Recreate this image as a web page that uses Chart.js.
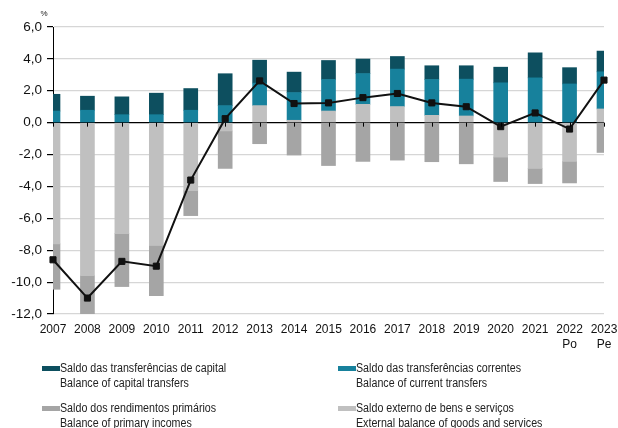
<!DOCTYPE html>
<html lang="pt">
<head>
    <meta charset="UTF-8">
    <title>Saldo externo</title>
    <script src="https://cdn.jsdelivr.net/npm/chart.js"></script>
    <style>
        body { margin: 0; background: #fff; }
        #wrap { position: relative; width: 618px; height: 428px; }
        .leg { position: absolute; font-family: "Liberation Sans", Arial, sans-serif; font-size: 12px; line-height: 14.5px; color: #222; white-space: nowrap; transform: scaleX(0.89); transform-origin: 0 0; }
        .sw { position: absolute; width: 18px; height: 5px; }
    </style>
</head>
<body>
<div id="wrap">
    <canvas id="chart" width="618" height="428"></canvas>
</div>
<script>
    const years = ['2007', '2008', '2009', '2010', '2011', '2012', '2013', '2014', '2015',
        '2016', '2017', '2018', '2019', '2020', '2021', ['2022', 'Po'], ['2023', 'Pe']];

    // % of GDP
    const goodsServices = [-7.6, -9.6, -6.96, -7.7, -4.26, -0.52, 1.07, 0.15, 0.73, 1.15, 1.01, 0.46, 0.42, -2.16, -2.87, -2.43, 0.86];
    const currentTransfers = [0.73, 0.78, 0.5, 0.5, 0.78, 1.07, 1.41, 1.74, 1.98, 1.93, 2.35, 2.25, 2.31, 2.5, 2.81, 2.43, 2.33];
    const capitalTransfers = [1.05, 0.88, 1.12, 1.35, 1.36, 2.0, 1.44, 1.28, 1.19, 0.91, 0.79, 0.86, 0.84, 0.98, 1.57, 1.02, 1.3];
    const primaryIncomes = [-2.85, -3.06, -3.32, -3.15, -1.57, -2.35, -1.32, -2.03, -2.69, -2.43, -2.35, -2.45, -2.58, -1.53, -0.95, -1.35, -1.87];
    const totalBalance = [-8.6, -11.0, -8.7, -9.0, -3.6, 0.25, 2.62, 1.2, 1.24, 1.57, 1.83, 1.24, 1.0, -0.25, 0.61, -0.4, 2.67];

    const legendItems = [
        ['#0d4f5f', 'Saldo das transferências de capital', 'Balance of capital transfers', 42, 361],
        ['#17819c', 'Saldo das transferências correntes', 'Balance of current transfers', 338, 361],
        ['#a5a5a5', 'Saldo dos rendimentos primários', 'Balance of primary incomes', 42, 401],
        ['#c0c0c0', 'Saldo externo de bens e serviços', 'External balance of goods and services', 338, 401]
    ];

    // legend as plain html below the plot
    const wrap = document.getElementById('wrap');
    legendItems.forEach(([col, pt, en, x, y]) => {
        const sw = document.createElement('div');
        sw.className = 'sw';
        sw.style.left = x + 'px';
        sw.style.top = (y + 5) + 'px';
        sw.style.background = col;
        wrap.appendChild(sw);
        const t = document.createElement('div');
        t.className = 'leg';
        t.style.left = (x + 18) + 'px';
        t.style.top = y + 'px';
        t.innerHTML = pt + '<br>' + en;
        wrap.appendChild(t);
    });

    // "%" unit and the little category ticks on the zero line
    const extras = {
        id: 'extras',
        afterDatasetsDraw(chart) {
            const ctx = chart.ctx;
            const x = chart.scales.x, y = chart.scales.y;
            const y0 = y.getPixelForValue(0);
            ctx.save();
            ctx.strokeStyle = '#000';
            ctx.lineWidth = 1;
            for (let i = 0; i < years.length; i++) {
                const px = Math.round(x.getPixelForValue(i)) + 0.5;
                ctx.beginPath();
                ctx.moveTo(px, y0);
                ctx.lineTo(px, y0 + 4);
                ctx.stroke();
            }
            ctx.fillStyle = '#222';
            ctx.font = '8px "Liberation Sans", Arial, sans-serif';
            ctx.textAlign = 'center';
            ctx.fillText('%', 44, 16);
            ctx.restore();
        }
    };

    const ctx = document.getElementById('chart').getContext('2d');
    new Chart(ctx, {
        data: {
            labels: years,
            datasets: [
                {
                    type: 'line',
                    label: 'Total',
                    data: totalBalance,
                    stack: 'total',
                    order: 0,
                    borderColor: '#111',
                    borderWidth: 2,
                    pointStyle: 'rect',
                    pointRadius: 4.3,
                    pointBackgroundColor: '#111',
                    pointBorderColor: '#111',
                    pointBorderWidth: 1,
                    clip: false
                },
                { type: 'bar', label: 'Saldo externo de bens e serviços', data: goodsServices, backgroundColor: '#c0c0c0', stack: 'a', order: 1 },
                { type: 'bar', label: 'Saldo das transferências correntes', data: currentTransfers, backgroundColor: '#17819c', stack: 'a', order: 1 },
                { type: 'bar', label: 'Saldo das transferências de capital', data: capitalTransfers, backgroundColor: '#0d4f5f', stack: 'a', order: 1 },
                { type: 'bar', label: 'Saldo dos rendimentos primários', data: primaryIncomes, backgroundColor: '#a5a5a5', stack: 'a', order: 1 }
            ]
        },
        options: {
            responsive: false,
            animation: false,
            devicePixelRatio: 1,
            barThickness: 14,
            layout: { padding: { top: 27, right: 14, left: 0, bottom: 0 } },
            plugins: {
                legend: { display: false },
                tooltip: { enabled: false }
            },
            scales: {
                x: {
                    stacked: true,
                    offset: false,
                    grid: { display: false, drawTicks: false },
                    border: { display: false },
                    ticks: {
                        color: '#111',
                        padding: 8,
                        maxRotation: 0,
                        autoSkip: false,
                        font: { family: '"Liberation Sans", Arial', size: 12, lineHeight: 1.25 }
                    },
                    afterFit(scale) {
                        scale.height = 114;
                        scale.paddingLeft = 0;
                        scale.paddingRight = 0;
                    }
                },
                y: {
                    stacked: true,
                    min: -12,
                    max: 6,
                    grid: {
                        color: c => (c.tick && c.tick.value === 0) ? '#000' : '#d6d6d6',
                        lineWidth: c => (c.tick && c.tick.value === 0) ? 1.3 : 1.2,
                        tickColor: '#000',
                        tickLength: 6
                    },
                    border: { display: true, color: '#000', width: 1 },
                    ticks: {
                        stepSize: 2,
                        color: '#111',
                        padding: 5,
                        font: { family: '"Liberation Sans", Arial', size: 13.5 },
                        callback: v => v.toFixed(1).replace('.', ',')
                    },
                    afterFit(scale) { scale.width = 53; }
                }
            }
        },
        plugins: [extras]
    });
</script>
</body>
</html>
